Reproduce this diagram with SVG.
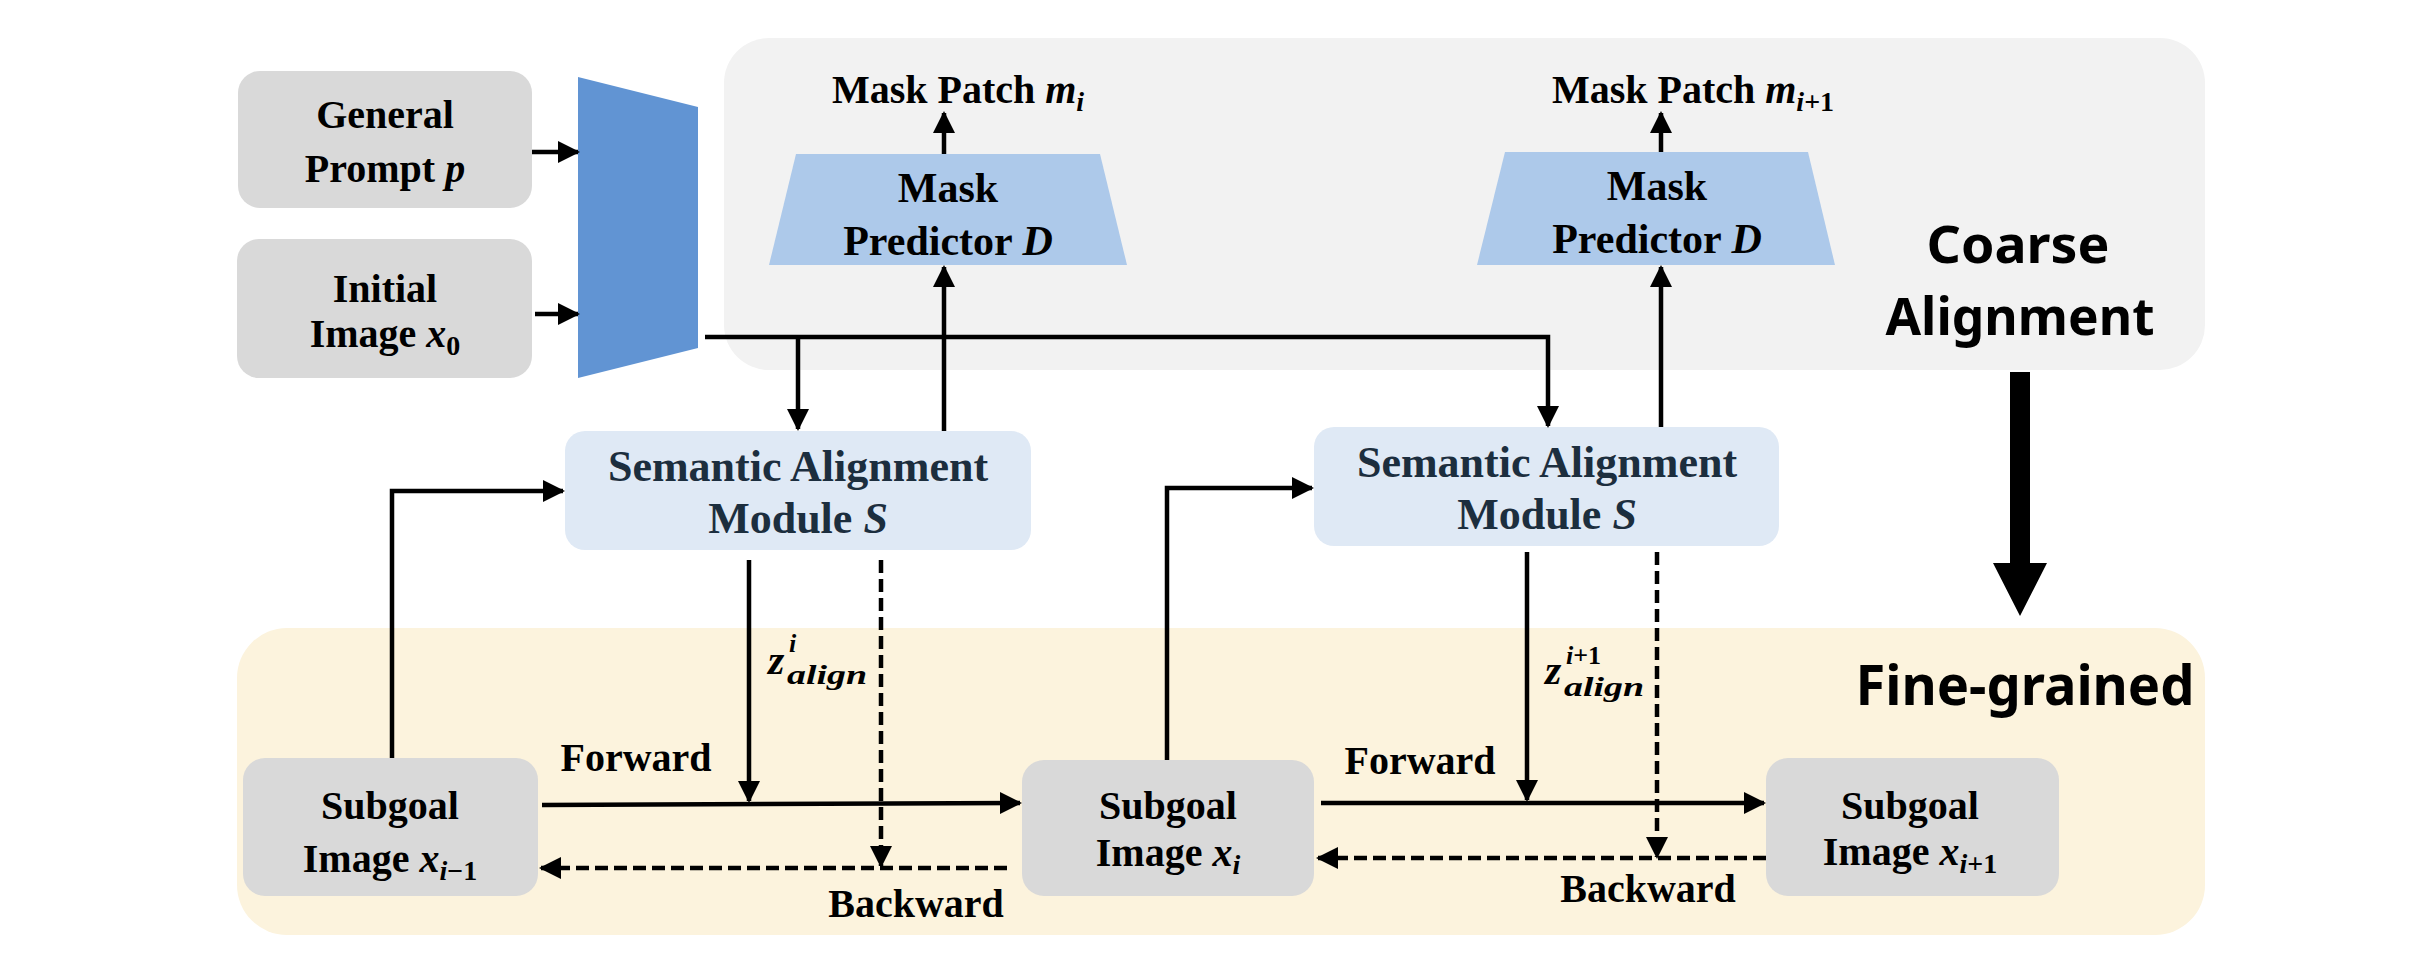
<svg xmlns="http://www.w3.org/2000/svg" width="2422" height="974" viewBox="0 0 2422 974">
<style>
.box{fill:#d9d9d9}
.t{font-family:"Liberation Serif","Times New Roman",serif;font-weight:bold;fill:#000;text-anchor:middle;font-size:40px}
.mi{font-style:italic}
.sub{font-size:28px}
.mod{fill:#1c2e3e;font-size:44px}
.hand{font-family:"Noto Sans",sans-serif;font-weight:bold;font-size:52px;text-anchor:middle;fill:#000}
.ln{stroke:#000;stroke-width:4.5;fill:none}
.dash{stroke-dasharray:13 6}
.zl{font-family:"Liberation Serif","Times New Roman",serif;font-weight:bold;font-style:italic;fill:#000}
</style>
<defs>
<marker id="ah" markerUnits="userSpaceOnUse" markerWidth="24" markerHeight="24" refX="20" refY="11" orient="auto"><path d="M0,0 L22,11 L0,22 z" fill="#000"/></marker>
</defs>
<rect width="2422" height="974" fill="#fff"/>
<g id="coarse-panel"><rect x="724" y="38" width="1481" height="332" rx="45" fill="#f2f2f2"/>
<text class="hand" x="2018" y="263" textLength="183" lengthAdjust="spacingAndGlyphs">Coarse</text>
<text class="hand" x="2020" y="335" textLength="269" lengthAdjust="spacingAndGlyphs">Alignment</text></g>
<g id="fine-panel"><rect x="237" y="628" width="1968" height="307" rx="50" fill="#fcf3dd"/>
<text class="hand" x="2025" y="705" textLength="339" lengthAdjust="spacingAndGlyphs" style="font-size:56px">Fine-grained</text></g>
<g id="general-prompt"><rect class="box" x="238" y="71" width="294" height="137" rx="22"/>
<text class="t" x="385" y="128">General</text>
<text class="t" x="385" y="182">Prompt <tspan class="mi">p</tspan></text></g>
<g id="initial-image"><rect class="box" x="237" y="239" width="295" height="139" rx="22"/>
<text class="t" x="385" y="302">Initial</text>
<text class="t" x="385" y="347">Image <tspan class="mi">x</tspan><tspan class="sub" dy="8">0</tspan></text></g>
<g id="encoder"><polygon points="578,77 698,107 698,348 578,378" fill="#6194d3"/></g>
<g id="predictor-1"><polygon points="796,154 1100,154 1127,265 769,265" fill="#adc9ea"/>
<text class="t" x="948" y="202" style="font-size:42px">Mask</text>
<text class="t" x="948" y="255" style="font-size:42px">Predictor <tspan class="mi">D</tspan></text>
<text class="t" x="958" y="103">Mask Patch <tspan class="mi">m</tspan><tspan class="mi sub" dy="8">i</tspan></text></g>
<g id="predictor-2"><polygon points="1505,152 1808,152 1835,265 1477,265" fill="#adc9ea"/>
<text class="t" x="1657" y="200" style="font-size:42px">Mask</text>
<text class="t" x="1657" y="253" style="font-size:42px">Predictor <tspan class="mi">D</tspan></text>
<text class="t" x="1693" y="103">Mask Patch <tspan class="mi">m</tspan><tspan class="mi sub" dy="8">i</tspan><tspan class="sub">+1</tspan></text></g>
<g id="module-1"><rect x="565" y="431" width="466" height="119" rx="20" fill="#dfe9f5"/>
<text class="t mod" x="798" y="481">Semantic Alignment</text>
<text class="t mod" x="798" y="533">Module  <tspan class="mi">S</tspan></text></g>
<g id="module-2"><rect x="1314" y="427" width="465" height="119" rx="20" fill="#dfe9f5"/>
<text class="t mod" x="1547" y="477">Semantic Alignment</text>
<text class="t mod" x="1547" y="529">Module  <tspan class="mi">S</tspan></text></g>
<g id="subgoal-1"><rect class="box" x="243" y="758" width="295" height="138" rx="22"/>
<text class="t" x="390" y="819">Subgoal</text>
<text class="t" x="390" y="872">Image <tspan class="mi">x</tspan><tspan class="mi sub" dy="8">i</tspan><tspan class="sub">−1</tspan></text></g>
<g id="subgoal-2"><rect class="box" x="1022" y="760" width="292" height="136" rx="22"/>
<text class="t" x="1168" y="819">Subgoal</text>
<text class="t" x="1168" y="866">Image <tspan class="mi">x</tspan><tspan class="mi sub" dy="8">i</tspan></text></g>
<g id="subgoal-3"><rect class="box" x="1766" y="758" width="293" height="138" rx="22"/>
<text class="t" x="1910" y="819">Subgoal</text>
<text class="t" x="1910" y="865">Image <tspan class="mi">x</tspan><tspan class="mi sub" dy="8">i</tspan><tspan class="sub">+1</tspan></text></g>
<g id="connectors">
<line class="ln" x1="532" y1="152" x2="578" y2="152" marker-end="url(#ah)"/>
<line class="ln" x1="535" y1="314" x2="578" y2="314" marker-end="url(#ah)"/>
<polyline class="ln" points="705,337 1548,337 1548,426" marker-end="url(#ah)"/>
<line class="ln" x1="798" y1="337" x2="798" y2="429" marker-end="url(#ah)"/>
<line class="ln" x1="944" y1="431" x2="944" y2="267" marker-end="url(#ah)"/>
<line class="ln" x1="944" y1="154" x2="944" y2="113" marker-end="url(#ah)"/>
<line class="ln" x1="1661" y1="427" x2="1661" y2="267" marker-end="url(#ah)"/>
<line class="ln" x1="1661" y1="152" x2="1661" y2="113" marker-end="url(#ah)"/>
<polyline class="ln" points="392,758 392,491 563,491" marker-end="url(#ah)"/>
<polyline class="ln" points="1167,760 1167,488 1312,488" marker-end="url(#ah)"/>
<line class="ln" x1="749" y1="560" x2="749" y2="801" marker-end="url(#ah)"/>
<line class="ln dash" x1="881" y1="560" x2="881" y2="866" marker-end="url(#ah)"/>
<line class="ln" x1="1527" y1="552" x2="1527" y2="800" marker-end="url(#ah)"/>
<line class="ln dash" x1="1657" y1="552" x2="1657" y2="857" marker-end="url(#ah)"/>
<line class="ln" x1="542" y1="805" x2="1020" y2="803" marker-end="url(#ah)"/>
<line class="ln" x1="1321" y1="803" x2="1764" y2="803" marker-end="url(#ah)"/>
<line class="ln dash" x1="1007" y1="868" x2="541" y2="868" marker-end="url(#ah)"/>
<line class="ln dash" x1="1766" y1="858" x2="1318" y2="858" marker-end="url(#ah)"/>
<path d="M2010,372 H2030 V563 H2047 L2020,616 L1993,563 H2010 Z" fill="#000"/>
<text class="t" x="636" y="771">Forward</text>
<text class="t" x="916" y="917">Backward</text>
<text class="t" x="1420" y="774">Forward</text>
<text class="t" x="1648" y="902">Backward</text>
<text class="zl" x="768" y="674" style="font-size:42px">z</text>
<text class="zl" x="789" y="652" style="font-size:26px">i</text>
<text class="zl" x="787" y="684" style="font-size:28px" textLength="80" lengthAdjust="spacingAndGlyphs">align</text>
<text class="zl" x="1545" y="684" style="font-size:42px">z</text>
<text class="zl" x="1566" y="664" style="font-size:26px">i<tspan style="font-style:normal">+1</tspan></text>
<text class="zl" x="1564" y="696" style="font-size:28px" textLength="80" lengthAdjust="spacingAndGlyphs">align</text>
</g>
</svg>
